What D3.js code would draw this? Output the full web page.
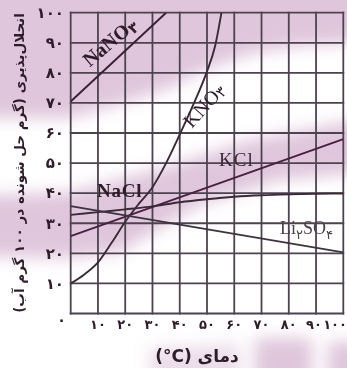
<!DOCTYPE html>
<html>
<head>
<meta charset="utf-8">
<script src="https://cdn.jsdelivr.net/npm/d3@7"></script>
<style>
  body { margin: 0; background: #fff; overflow: hidden; }
  svg { display: block; }
</style>
</head>
<body>
<div id="vis"></div>
<script>
const frame_width = 347;
const frame_height = 368;

// solubility readings (temperature °C, grams per 100 g water)
const nano3_t = [0, 35];
const nano3_s = [70.5, 100];
const kno3_t = [0, 5, 10, 15, 20, 25, 30, 35, 40, 45, 50, 53, 55.3];
const kno3_s = [10, 13, 17, 23.5, 30.5, 36.5, 42, 50, 59.5, 69.5, 80.5, 89, 100];
const kcl_t = [0, 100];
const kcl_s = [25.7, 58];
const nacl_t = [0, 10, 20, 30, 40, 50, 60, 70, 80, 90, 100];
const nacl_s = [32.8, 33.7, 34.6, 35.6, 37, 38, 38.8, 39.3, 39.6, 39.8, 39.9];
const li2so4_t = [0, 100];
const li2so4_s = [35.7, 20.3];

const x_ticks = [10, 20, 30, 40, 50, 60, 70, 80, 90, 100];
const y_ticks = [10, 20, 30, 40, 50, 60, 70, 80, 90, 100];
const fa_digits = ["۰", "۱", "۲", "۳", "۴", "۵", "۶", "۷", "۸", "۹"];
const toFa = (n) => String(n).replace(/[0-9]/g, (c) => fa_digits[+c]);

const ink = "#2e1c2b";
const gridColor = "#4d4350";

const svg = d3.select("#vis")
  .append("svg")
    .attr("width", frame_width)
    .attr("height", frame_height);

const defs = svg.append("defs");
defs.append("filter").attr("id", "soft")
  .attr("x", "-20%").attr("y", "-20%").attr("width", "140%").attr("height", "140%")
  .append("feGaussianBlur").attr("stdDeviation", 8);

// pink watermark behind the chart
const pink = svg.append("g").attr("filter", "url(#soft)").attr("fill", "#dfc6dc");
const blobs = [
  [[-20,-20],[367,-20],[367,42],[300,46],[250,54],[200,72],[170,88],[120,104],[70,118],[-20,118]],
  [[-20,196],[70,192],[170,166],[250,140],[367,118],[367,172],[280,180],[200,205],[120,252],[70,258],[-20,256]],
  [[150,348],[240,344],[240,390],[150,390]],
  [[255,338],[312,338],[312,390],[255,390]],
  [[328,342],[367,342],[367,390],[328,390]]
];
pink.selectAll("polygon")
  .data(blobs)
  .enter()
  .append("polygon")
    .attr("points", (d) => d.map((p) => p.join(",")).join(" "))
    .attr("opacity", (d, i) => i === 2 ? 0.6 : 1);

const x_scale = d3.scaleLinear().domain([0, 100]).range([70.7, 343.3]);
const y_scale = d3.scaleLinear().domain([0, 100]).range([313.5, 12.7]);

// grid
const grid = svg.append("g").attr("stroke", gridColor).attr("stroke-width", 1.8);
grid.selectAll(".vline")
  .data([0].concat(x_ticks))
  .enter()
  .append("line")
    .attr("x1", (d) => x_scale(d)).attr("x2", (d) => x_scale(d))
    .attr("y1", y_scale(0) + 0.9).attr("y2", y_scale(100) - 0.9);
grid.selectAll(".hline")
  .data([0].concat(y_ticks))
  .enter()
  .append("line")
    .attr("y1", (d) => y_scale(d)).attr("y2", (d) => y_scale(d))
    .attr("x1", x_scale(0) - 0.9).attr("x2", x_scale(100) + 0.9);

defs.append("clipPath").attr("id", "plot")
  .append("rect")
    .attr("x", x_scale(0)).attr("y", y_scale(100))
    .attr("width", x_scale(100) - x_scale(0))
    .attr("height", y_scale(0) - y_scale(100));

const series = [
  {t: nano3_t, s: nano3_s, curve: d3.curveLinear, color: "#3a1f35"},
  {t: kno3_t, s: kno3_s, curve: d3.curveMonotoneX, color: "#3a2a38"},
  {t: kcl_t, s: kcl_s, curve: d3.curveLinear, color: "#4a1f42"},
  {t: nacl_t, s: nacl_s, curve: d3.curveMonotoneX, color: "#3a2a38"},
  {t: li2so4_t, s: li2so4_s, curve: d3.curveLinear, color: "#3d3340"}
];

const plot = svg.append("g").attr("clip-path", "url(#plot)");
series.forEach((d) => {
  const line = d3.line()
    .x((v, i) => x_scale(d.t[i]))
    .y((v) => y_scale(v))
    .curve(d.curve);
  plot.append("path")
    .attr("d", line(d.s))
    .attr("fill", "none")
    .attr("stroke", d.color)
    .attr("stroke-width", 1.9);
});

// tick labels (Persian digits)
const tickFont = "'DejaVu Sans', sans-serif";
svg.append("g").selectAll("text")
  .data(y_ticks)
  .enter()
  .append("text")
    .attr("x", 64)
    .attr("y", (d) => y_scale(d))
    .attr("dy", "0.35em")
    .attr("text-anchor", "end")
    .attr("font-family", tickFont)
    .attr("font-weight", "bold")
    .attr("font-size", 15)
    .attr("fill", ink)
    .text((d) => toFa(d));

svg.append("text")
  .attr("x", 61.5).attr("y", 319.5).attr("dy", "0.35em")
  .attr("text-anchor", "middle")
  .attr("font-family", tickFont).attr("font-weight", "bold").attr("font-size", 15)
  .attr("fill", ink)
  .text(toFa(0));

svg.append("g").selectAll("text")
  .data(x_ticks)
  .enter()
  .append("text")
    .attr("x", (d) => d === 100 ? frame_width : x_scale(d) - (d === 90 ? 2 : 0))
    .attr("y", 324.5)
    .attr("dy", "0.35em")
    .attr("text-anchor", (d) => d === 100 ? "end" : "middle")
    .attr("font-family", tickFont)
    .attr("font-weight", "bold")
    .attr("font-size", 13)
    .attr("fill", ink)
    .text((d) => toFa(d));

// axis titles
const yTitle = svg.append("text")
  .attr("transform", "translate(24,163) rotate(-90)")
  .attr("text-anchor", "middle")
  .attr("direction", "rtl")
  .attr("font-family", tickFont)
  .attr("font-weight", "bold")
  .attr("font-size", 14)
  .attr("fill", ink)
  .text("انحلال‌پذیری (گرم حل شونده در ۱۰۰ گرم آب)");
const yLen = yTitle.node().getComputedTextLength();
yTitle.attr("font-size", 14 * 300 / yLen);

svg.append("text")
  .attr("x", 197).attr("y", 362)
  .attr("text-anchor", "middle")
  .attr("direction", "rtl")
  .attr("font-family", tickFont)
  .attr("font-weight", "bold")
  .attr("font-size", 17)
  .attr("fill", ink)
  .text("دمای (\u200E°C)");

// series labels
const serif = "'Liberation Serif', 'DejaVu Serif', serif";
const nano3Label = svg.append("text")
  .attr("transform", "translate(114,47) rotate(-40)")
  .attr("text-anchor", "middle")
  .attr("font-family", serif).attr("font-weight", "bold").attr("font-size", 20)
  .attr("fill", ink);
nano3Label.append("tspan").text("NaNO");
nano3Label.append("tspan").attr("font-family", tickFont).attr("font-size", 15).attr("dy", 3).text("۳");

const kno3Label = svg.append("text")
  .attr("transform", "translate(209,110) rotate(-48)")
  .attr("text-anchor", "middle")
  .attr("font-family", serif).attr("font-size", 20)
  .attr("fill", ink);
kno3Label.append("tspan").text("KNO");
kno3Label.append("tspan").attr("font-family", tickFont).attr("font-size", 15).attr("dy", 2).text("۳");

svg.append("text")
  .attr("x", 219).attr("y", 166)
  .attr("font-family", serif).attr("font-size", 19)
  .attr("letter-spacing", 1)
  .attr("fill", "#3a2a38")
  .text("KCl");

svg.append("text")
  .attr("x", 97).attr("y", 197)
  .attr("font-family", serif).attr("font-weight", "bold").attr("font-size", 19)
  .attr("letter-spacing", 0.8)
  .attr("fill", ink)
  .text("NaCl");

const liLabel = svg.append("text")
  .attr("x", 280).attr("y", 234)
  .attr("font-family", serif).attr("font-size", 18)
  .attr("fill", "#4a4048");
liLabel.append("tspan").text("Li");
liLabel.append("tspan").attr("font-family", tickFont).attr("font-size", 13).attr("dy", 5).text("۲");
liLabel.append("tspan").attr("dy", -5).text("SO");
liLabel.append("tspan").attr("font-family", tickFont).attr("font-size", 13).attr("dy", 5).text("۴");
</script>
</body>
</html>
